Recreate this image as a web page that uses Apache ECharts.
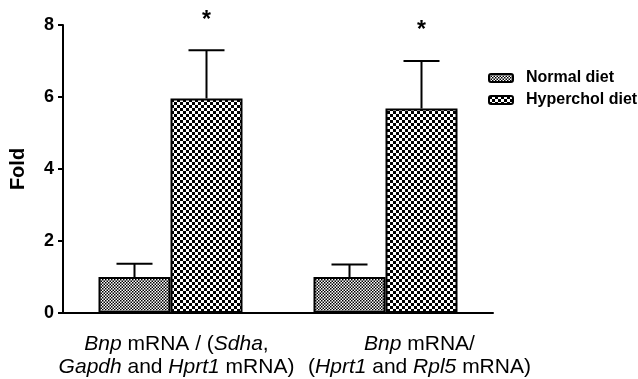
<!DOCTYPE html>
<html>
<head>
<meta charset="utf-8">
<script src="https://cdn.jsdelivr.net/npm/echarts@6/dist/echarts.min.js"></script>
<style>
  html, body { margin: 0; padding: 0; background: #fff; }
  #chart { width: 638px; height: 379px; }
</style>
</head>
<body>
<div id="chart"></div>
<script>
// data
const categories = [
  '{i|Bnp} mRNA / ({i|Sdha},\n{i|Gapdh} and {i|Hprt1} mRNA)',
  '{i|Bnp} mRNA/\n({i|Hprt1} and {i|Rpl5} mRNA)'
];
const seriesNames = ['Normal diet', 'Hyperchol diet'];
const normalMean = [1.0, 1.0];
const normalErr = [0.37, 0.35];
const hyperMean = [5.96, 5.68];
const hyperErr = [1.34, 1.32];
const hyperMarks = ['*', '*'];
const yTicks = [0, 2, 4, 6, 8];

// checker patterns
function checker(size) {
  const c = document.createElement('canvas');
  c.width = size * 2;
  c.height = size * 2;
  const ctx = c.getContext('2d');
  ctx.fillStyle = '#fff';
  ctx.fillRect(0, 0, size * 2, size * 2);
  ctx.fillStyle = '#000';
  ctx.fillRect(0, 0, size, size);
  ctx.fillRect(size, size, size, size);
  return c;
}
const finePattern = { image: checker(1.5), repeat: 'repeat' };
const coarsePattern = { image: checker(3), repeat: 'repeat' };

const BAR_W = 72;
const chart = echarts.init(document.getElementById('chart'), null, { renderer: 'canvas' });

function errRender(means, errs, marks, side) {
  return function (params, api) {
    const i = api.value(0);
    const top = api.coord([i, means[i] + errs[i]]);
    const base = api.coord([i, means[i]]);
    const x = top[0] + side * BAR_W / 2;
    const children = [
      { type: 'line', shape: { x1: x, y1: base[1], x2: x, y2: top[1] }, style: { stroke: '#000', lineWidth: 2 } },
      { type: 'line', shape: { x1: x - 18, y1: top[1], x2: x + 18, y2: top[1] }, style: { stroke: '#000', lineWidth: 2 } }
    ];
    if (marks && marks[i]) {
      children.push({
        type: 'text',
        style: { x: x, y: top[1] - 30, text: marks[i], align: 'center', verticalAlign: 'middle',
          font: 'bold 23px "Liberation Sans", Arial', fill: '#000' }
      });
    }
    return { type: 'group', children: children };
  };
}

// labels sit right of their ticks in the original
const labelShift = [12, 68];
const xData = categories.map((c, i) => ({ value: c, textStyle: { padding: [0, 0, 0, labelShift[i]] } }));

chart.setOption({
  backgroundColor: '#fff',
  animation: false,
  textStyle: { fontFamily: '"Liberation Sans", Arial, sans-serif' },
  grid: { left: 62, right: 145, top: 25, bottom: 66 },
  legend: {
    orient: 'vertical',
    left: 483,
    top: 65,
    itemWidth: 24,
    itemHeight: 8,
    itemGap: 6,
    data: seriesNames,
    textStyle: { fontWeight: 'bold', fontSize: 16, color: '#000', padding: [0, 0, 0, 8] }
  },
  xAxis: {
    type: 'category',
    data: xData,
    axisLine: { lineStyle: { color: '#000', width: 2 } },
    axisTick: { alignWithLabel: true, length: 7, lineStyle: { color: '#000', width: 2 } },
    axisLabel: {
      interval: 0,
      margin: 20,
      color: '#000',
      fontSize: 21,
      lineHeight: 23,
      rich: { i: { fontStyle: 'italic', fontSize: 21, lineHeight: 23, color: '#000' } }
    }
  },
  yAxis: {
    type: 'value',
    min: 0,
    max: 8,
    interval: 2,
    name: 'Fold',
    nameLocation: 'middle',
    nameGap: 35,
    nameTextStyle: { fontWeight: 'bold', fontSize: 20, color: '#000' },
    axisLine: { show: true, lineStyle: { color: '#000', width: 2 } },
    axisTick: { show: true, length: 5, lineStyle: { color: '#000', width: 2 } },
    splitLine: { show: false },
    axisLabel: {
      color: '#000', fontWeight: 'bold', fontSize: 18, margin: 9,
      formatter: function (v) { return yTicks.indexOf(v) >= 0 ? String(v) : ''; }
    }
  },
  series: [
    {
      name: seriesNames[0], type: 'bar', barWidth: BAR_W, barGap: '0%',
      data: normalMean,
      itemStyle: { color: finePattern, borderColor: '#000', borderWidth: 2 }
    },
    {
      name: seriesNames[1], type: 'bar', barWidth: BAR_W, barGap: '0%',
      data: hyperMean,
      itemStyle: { color: coarsePattern, borderColor: '#000', borderWidth: 2 }
    },
    {
      type: 'custom', silent: true, z: 1,
      data: normalMean.map((v, i) => [i]),
      renderItem: errRender(normalMean, normalErr, null, -1)
    },
    {
      type: 'custom', silent: true, z: 1,
      data: hyperMean.map((v, i) => [i]),
      renderItem: errRender(hyperMean, hyperErr, hyperMarks, 1)
    }
  ]
});
</script>
</body>
</html>
